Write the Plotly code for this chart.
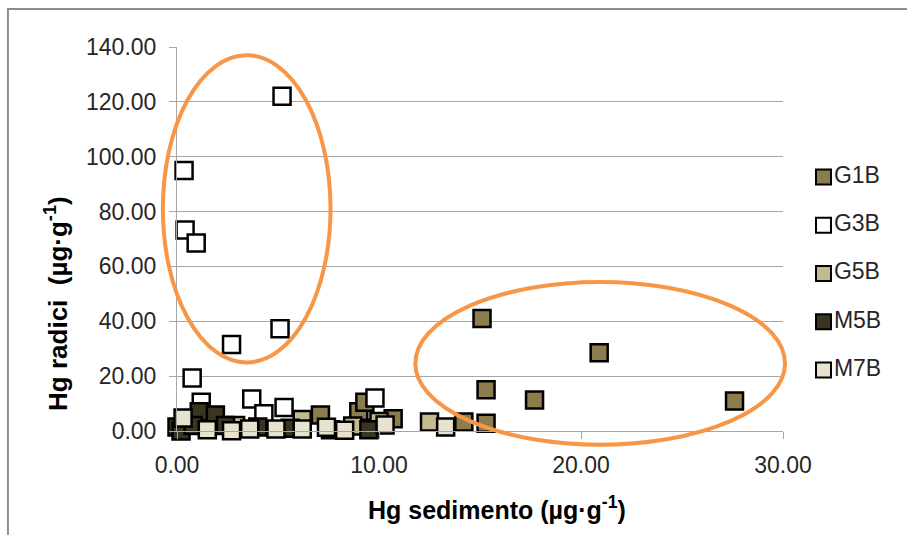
import plotly.graph_objects as go

# Hg concentrations: sediment (x) vs roots (y), µg·g-1
series_names = ["G1B", "G3B", "G5B", "M5B", "M7B"]

g1b_x = [15.1, 20.9, 15.3, 17.7, 27.6, 15.3, 14.2, 7.1, 9.0, 9.3, 10.7]
g1b_y = [41.0, 28.5, 15.0, 11.3, 10.9, 2.8, 3.3, 5.8, 7.0, 10.5, 4.5]

g3b_x = [5.2, 0.35, 0.4, 0.95, 2.7, 5.1, 0.75, 1.2, 3.7, 5.3, 9.8, 4.3, 9.5]
g3b_y = [122.0, 95.0, 73.3, 68.5, 31.5, 37.3, 19.3, 10.5, 11.7, 8.6, 12.0, 6.3, 1.0]

g5b_x = [12.5, 8.7, 6.2, 2.9, 0.5, 10.0]
g5b_y = [3.3, 1.8, 4.2, 2.0, 4.0, 3.5]

m5b_x = [0.0, 0.2, 1.1, 1.9, 2.4, 4.0, 5.6, 7.6, 9.5, 0.8]
m5b_y = [1.5, 0.0, 7.0, 5.8, 2.0, 1.5, 1.0, 0.5, 0.5, 2.0]

m7b_x = [0.3, 1.5, 2.7, 3.6, 4.9, 6.2, 7.4, 10.3, 13.3, 8.3]
m7b_y = [4.7, 0.5, 0.1, 0.7, 0.7, 0.7, 1.4, 2.2, 1.5, 0.3]

x_ticks = [0, 10, 20, 30]
y_ticks = [0, 20, 40, 60, 80, 100, 120, 140]

x_title = "<b>Hg sedimento (µg·g<sup>-1</sup>)</b>"
y_title = "<b>Hg radici  (µg·g<sup>-1</sup>)</b>"

# highlighted groups (data-space bounding boxes of the ellipses)
group_high_roots = dict(x0=-0.7, x1=7.6, y0=25.0, y1=137.0)
group_high_sed = dict(x0=11.8, x1=30.1, y0=-5.0, y1=54.3)

X_RANGE = [0, 30]
Y_RANGE = [0, 140]

colors = ["#8B7D4E", "#FFFFFF", "#C5BA8E", "#3A3521", "#E7E3CE"]
xs = [g1b_x, g3b_x, g5b_x, m5b_x, m7b_x]
ys = [g1b_y, g3b_y, g5b_y, m5b_y, m7b_y]

FONT = "Liberation Sans, Arial, sans-serif"

# page geometry: main plot spans 606 px of a 730 px wide paper,
# the key column sits to its right
MARGIN_L, MARGIN_R, MARGIN_T, MARGIN_B = 177, 0, 47, 104
PAPER_W = 907 - MARGIN_L - MARGIN_R
PAPER_H = 535 - MARGIN_T - MARGIN_B
PLOT_W = 606
KEY_LEFT_PX = 823.5          # centre of the key swatches
KEY_TOP_PX, KEY_ROW_PX = 153, 48.25

fig = go.Figure()
for name, x, y, c in zip(series_names, xs, ys, colors):
    fig.add_trace(go.Scatter(
        x=x, y=y, mode="markers", name=name, showlegend=False,
        cliponaxis=False,
        marker=dict(symbol="square", size=17, color=c,
                    line=dict(color="#000000", width=2.5)),
    ))

# series key: one swatch + label per series, stacked top to bottom
fig.add_trace(go.Scatter(
    x=[0] * len(series_names), y=list(range(len(series_names))),
    xaxis="x2", yaxis="y2", mode="markers+text",
    text=series_names, textposition="middle right",
    textfont=dict(size=23, color="#262626"),
    cliponaxis=False, showlegend=False, hoverinfo="skip",
    marker=dict(symbol="square", size=15, color=colors,
                line=dict(color="#000000", width=2)),
))


def to_domain(box):
    fx = lambda v: (v - X_RANGE[0]) / (X_RANGE[1] - X_RANGE[0])
    fy = lambda v: (v - Y_RANGE[0]) / (Y_RANGE[1] - Y_RANGE[0])
    return dict(x0=fx(box["x0"]), x1=fx(box["x1"]), y0=fy(box["y0"]), y1=fy(box["y1"]))


for box in (group_high_roots, group_high_sed):
    fig.add_shape(type="circle", xref="x domain", yref="y domain",
                  line=dict(color="#F79646", width=4), layer="above",
                  **to_domain(box))

# outer chart frame
fig.add_shape(type="rect", xref="x domain", yref="y domain",
              x0=-0.279, x1=1.25, y0=-0.3, y1=1.099,
              line=dict(color="#8C8C8C", width=2), layer="below")

# axis titles
fig.add_annotation(text=x_title, xref="x domain", yref="y domain",
                   x=0.528, y=-0.2, xanchor="center", yanchor="middle",
                   showarrow=False, font=dict(size=25, color="#000000"))
fig.add_annotation(text=y_title, xref="x domain", yref="y domain",
                   x=-0.2, y=0.333, xanchor="center", yanchor="middle",
                   textangle=-90, showarrow=False,
                   font=dict(size=26, color="#000000"))

n = len(series_names)
key_bottom_px = KEY_TOP_PX + n * KEY_ROW_PX

fig.update_layout(
    template="none",
    width=907, height=535, autosize=False,
    margin=dict(l=MARGIN_L, r=MARGIN_R, t=MARGIN_T, b=MARGIN_B,
                pad=0, autoexpand=False),
    paper_bgcolor="white", plot_bgcolor="white",
    font=dict(family=FONT, color="#262626"),
    showlegend=False,
    xaxis=dict(
        domain=[0, PLOT_W / PAPER_W], automargin=False,
        range=X_RANGE, tickvals=x_ticks, tickformat=".2f",
        showgrid=False, zeroline=False,
        showline=True, linecolor="#A6A6A6", linewidth=1,
        ticks="outside", ticklen=7, tickcolor="#A6A6A6",
        ticklabelstandoff=6,
        tickfont=dict(size=23, color="#262626"),
    ),
    yaxis=dict(
        range=Y_RANGE, tickvals=y_ticks, tickformat=".2f", automargin=False,
        showgrid=True, gridcolor="#A6A6A6", gridwidth=1,
        zeroline=False,
        showline=True, linecolor="#A6A6A6", linewidth=1,
        ticks="outside", ticklen=7, tickcolor="#A6A6A6",
        ticklabelstandoff=8,
        tickfont=dict(size=23, color="#262626"),
    ),
    xaxis2=dict(
        domain=[(KEY_LEFT_PX - MARGIN_L) / PAPER_W, 1.0],
        range=[0, 1], visible=False, anchor="y2", automargin=False,
    ),
    yaxis2=dict(
        domain=[1 - (key_bottom_px - MARGIN_T) / PAPER_H,
                1 - (KEY_TOP_PX - MARGIN_T) / PAPER_H],
        range=[n - 0.5, -0.5], visible=False, anchor="x2", automargin=False,
    ),
)

fig.write_html("out.html")
